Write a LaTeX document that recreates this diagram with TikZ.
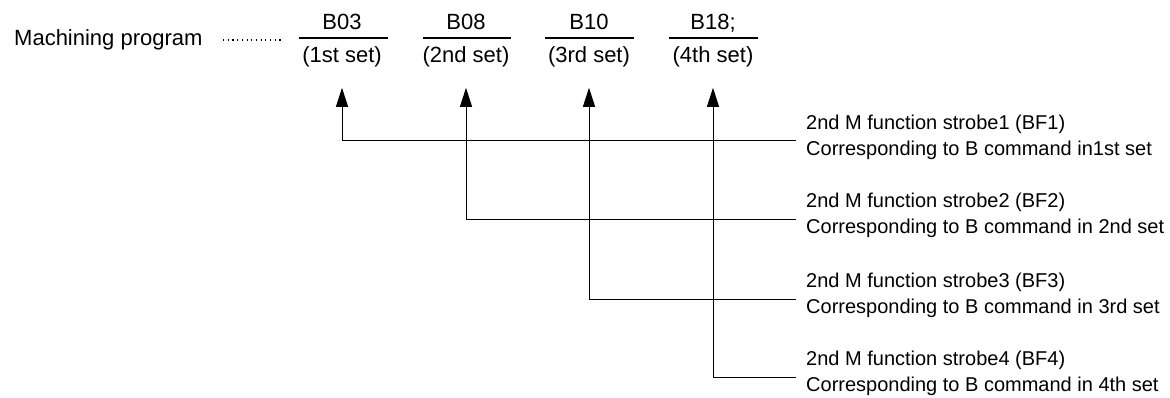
\documentclass[tikz,border=0pt]{standalone}
\usepackage{fontspec}
\setmainfont{Liberation Sans}
\usepackage{tikz}
\usetikzlibrary{arrows.meta,positioning,calc}

\tikzset{
  txt/.style={inner sep=0pt, font=\fontsize{22}{26}\selectfont},
  strobelabel/.style={inner sep=0pt, font=\fontsize{20}{26}\selectfont, align=left, anchor=west, inner xsep=10pt},
  setline/.style={line width=1.6pt},
  strobe/.style={line width=1pt, -{Triangle[length=19pt,width=12pt]}},
}

\begin{document}
\begin{tikzpicture}[x=1pt,y=-1pt]
  \useasboundingbox (0,0) rectangle (1170,398);

  % Machining program
  \node[txt,anchor=base west] (prog) at (14,46) {Machining program};
  \coordinate (dotA) at (223,40);
  \coordinate (dotB) at (282,40);
  \draw[line width=1.1pt, dash pattern=on 1.1pt off 3.6pt] (dotA) -- (dotB);

  % B commands
  \node[txt,anchor=base] (b1) at (342,30) {B03};
  \node[txt,anchor=base] (s1) at (342,63) {(1st set)};
  \draw[setline] (299,38) -- (388,38);

  \node[txt,anchor=base] (b2) at (466,30) {B08};
  \node[txt,anchor=base] (s2) at (466,63) {(2nd set)};
  \draw[setline] (423,38) -- (511,38);

  \node[txt,anchor=base] (b3) at (589,30) {B10};
  \node[txt,anchor=base] (s3) at (589,63) {(3rd set)};
  \draw[setline] (545,38) -- (634,38);

  \node[txt,anchor=base] (b4) at (713,30) {B18;};
  \node[txt,anchor=base] (s4) at (713,63) {(4th set)};
  \draw[setline] (669,38) -- (758,38);

  % Strobe signals
  \node[strobelabel] (bf1) at (796,137) {2nd M function strobe1 (BF1)\\Corresponding to B command in1st set};
  \node[strobelabel] (bf2) at (796,215.5) {2nd M function strobe2 (BF2)\\Corresponding to B command in 2nd set};
  \node[strobelabel] (bf3) at (796,295) {2nd M function strobe3 (BF3)\\Corresponding to B command in 3rd set};
  \node[strobelabel] (bf4) at (796,373.5) {2nd M function strobe4 (BF4)\\Corresponding to B command in 4th set};

  \draw[strobe] ([yshift=-4pt]bf1.west) -| ([yshift=-20pt]s1.south);
  \draw[strobe] ([yshift=-4pt]bf2.west) -| ([yshift=-20pt]s2.south);
  \draw[strobe] ([yshift=-4pt]bf3.west) -| ([yshift=-20pt]s3.south);
  \draw[strobe] ([yshift=-4pt]bf4.west) -| ([yshift=-20pt]s4.south);
\end{tikzpicture}
\end{document}
